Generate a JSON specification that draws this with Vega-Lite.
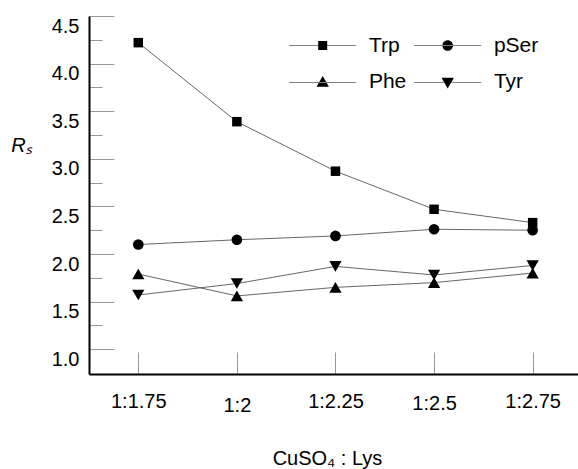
{
  "$schema": "https://vega.github.io/schema/vega-lite/v6.json",
  "width": 489,
  "height": 358,
  "autosize": "none",
  "padding": {"left": 89, "top": 16, "right": 0, "bottom": 95},
  "background": "white",
  "config": {"view": {"stroke": null}, "font": "Liberation Sans"},
  "data": {
    "values": [
      {"series": "Trp", "lys": 1.75, "rs": 4.22},
      {"series": "Trp", "lys": 2.0, "rs": 3.39},
      {"series": "Trp", "lys": 2.25, "rs": 2.87},
      {"series": "Trp", "lys": 2.5, "rs": 2.47},
      {"series": "Trp", "lys": 2.75, "rs": 2.33},
      {"series": "pSer", "lys": 1.75, "rs": 2.1},
      {"series": "pSer", "lys": 2.0, "rs": 2.15},
      {"series": "pSer", "lys": 2.25, "rs": 2.19},
      {"series": "pSer", "lys": 2.5, "rs": 2.26},
      {"series": "pSer", "lys": 2.75, "rs": 2.25},
      {"series": "Phe", "lys": 1.75, "rs": 1.79},
      {"series": "Phe", "lys": 2.0, "rs": 1.56},
      {"series": "Phe", "lys": 2.25, "rs": 1.65},
      {"series": "Phe", "lys": 2.5, "rs": 1.7},
      {"series": "Phe", "lys": 2.75, "rs": 1.8},
      {"series": "Tyr", "lys": 1.75, "rs": 1.57},
      {"series": "Tyr", "lys": 2.0, "rs": 1.69},
      {"series": "Tyr", "lys": 2.25, "rs": 1.87},
      {"series": "Tyr", "lys": 2.5, "rs": 1.78},
      {"series": "Tyr", "lys": 2.75, "rs": 1.88}
    ]
  },
  "encoding": {
    "x": {
      "field": "lys", "type": "quantitative",
      "scale": {"domain": [1.625, 2.865], "nice": false, "zero": false},
      "axis": {
        "values": [1.75, 2, 2.25, 2.5, 2.75],
        "labelExpr": "'1:' + datum.value",
        "title": "CuSO₄ : Lys",
        "grid": false,
        "domainColor": "black", "domainWidth": 2,
        "tickColor": "#999", "tickWidth": 1, "tickSize": -22,
        "labelFontSize": 20, "labelColor": "black",
        "labelFlush": false, "labelOverlap": false, "labelBound": false,
        "labelPadding": {"condition": [{"test": "datum.value == 2", "value": 43}, {"test": "datum.value == 2.5", "value": 41}], "value": 39},
        "titleFontSize": 20, "titleFontWeight": "normal", "titleColor": "black",
        "titleX": 238, "titleY": 84, "titleBaseline": "middle", "titleAlign": "center"
      }
    },
    "y": {
      "field": "rs", "type": "quantitative",
      "scale": {"domain": [0.74, 4.5], "nice": false, "zero": false},
      "axis": {
        "values": [1, 1.25, 1.5, 1.75, 2, 2.25, 2.5, 2.75, 3, 3.25, 3.5, 3.75, 4, 4.25, 4.5],
        "labelExpr": "datum.value * 2 % 1 == 0 ? format(datum.value, '.1f') : ''",
        "grid": false,
        "domainColor": "black", "domainWidth": 2,
        "tickColor": "#999", "tickWidth": 1,
        "tickSize": {"condition": {"test": "datum.value * 2 % 1 == 0", "value": -25}, "value": -13},
        "labelFontSize": 20, "labelColor": "black",
        "labelPadding": 35, "labelOffset": 10,
        "labelFlush": false, "labelOverlap": false, "labelBound": false,
        "title": "Rₛ", "titleAngle": 0, "titleFontStyle": "italic",
        "titleFontSize": 20, "titleFontWeight": "normal", "titleColor": "black",
        "titleX": -68, "titleY": 129, "titleAlign": "center", "titleBaseline": "middle"
      }
    }
  },
  "layer": [
    {
      "mark": {"type": "line", "color": "#555", "strokeWidth": 0.9},
      "encoding": {"detail": {"field": "series"}}
    },
    {
      "transform": [{"filter": "datum.series == 'Trp'"}],
      "mark": {"type": "point", "shape": "square", "size": 90, "filled": true, "color": "black", "opacity": 1}
    },
    {
      "transform": [{"filter": "datum.series == 'pSer'"}],
      "mark": {"type": "point", "shape": "circle", "size": 114, "filled": true, "color": "black", "opacity": 1}
    },
    {
      "transform": [{"filter": "datum.series == 'Phe'"}],
      "mark": {"type": "point", "shape": "triangle-up", "size": 150, "filled": true, "color": "black", "opacity": 1}
    },
    {
      "transform": [{"filter": "datum.series == 'Tyr'"}],
      "mark": {"type": "point", "shape": "triangle-down", "size": 150, "filled": true, "color": "black", "opacity": 1}
    },
    {
      "transform": [{"filter": "false"}],
      "mark": {"type": "point", "filled": true, "color": "black", "opacity": 1},
      "encoding": {
        "shape": {
          "field": "series", "type": "nominal",
          "scale": {
            "domain": ["Trp", "pSer", "Phe", "Tyr"],
            "range": [
              "M-3.35,-0.03H3.35V0.03H-3.35Z M-0.45,-0.45H0.45V0.45H-0.45Z",
              "M-3.35,-0.03H3.35V0.03H-3.35Z M-0.53,0A0.53,0.53 0 1,0 0.53,0A0.53,0.53 0 1,0 -0.53,0Z",
              "M-3.35,-0.03H3.35V0.03H-3.35Z M-0.62,0.45L0.62,0.45L0,-0.62Z",
              "M-3.35,-0.03H3.35V0.03H-3.35Z M-0.62,-0.45L0.62,-0.45L0,0.62Z"
            ]
          },
          "legend": {
            "title": null,
            "orient": "none",
            "direction": "horizontal",
            "legendX": 222.7,
            "legendY": 18.5,
            "columns": 2,
            "padding": 0,
            "symbolSize": 400,
            "symbolFillColor": "black",
            "symbolOpacity": 1,
            "labelFontSize": 21,
            "labelColor": "black",
            "labelOffset": 35.2,
            "columnPadding": 4,
            "rowPadding": 15.7
          }
        }
      }
    }
  ]
}
